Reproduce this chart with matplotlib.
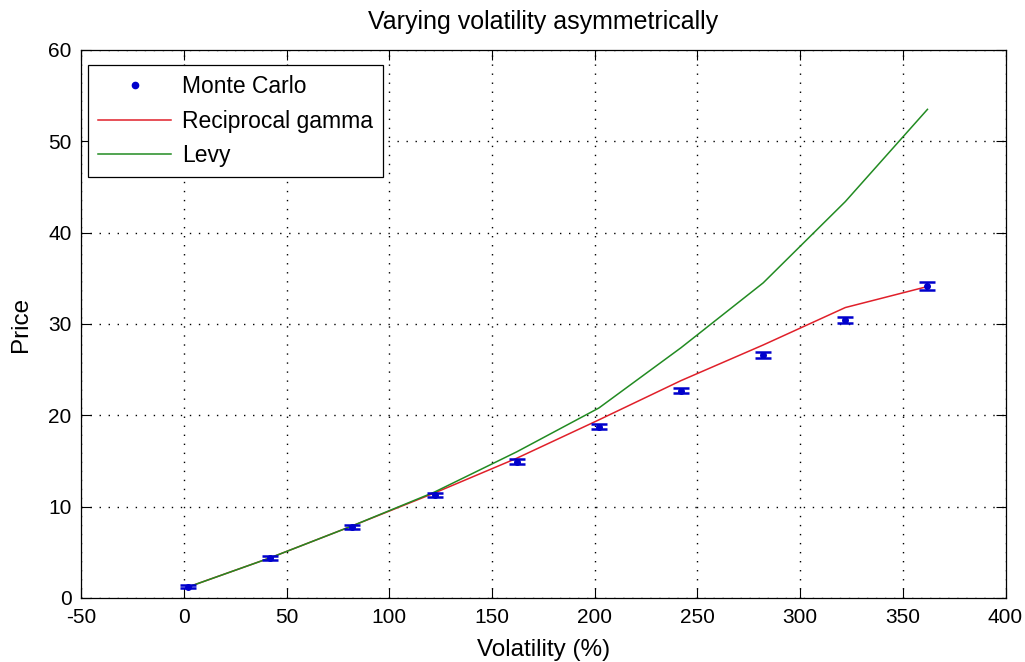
import matplotlib
matplotlib.use("Agg")
import matplotlib.pyplot as plt
from matplotlib.lines import Line2D

plt.rcParams['font.family'] = ['Liberation Sans', 'DejaVu Sans']
plt.rcParams['axes.unicode_minus'] = False

# Volatility levels (%) and prices
volatility = [2, 42, 82, 122, 162, 202, 242, 282, 322, 362]
mc_price = [1.24, 4.35, 7.74, 11.28, 14.93, 18.76, 22.71, 26.6, 30.45, 34.17]
mc_err = [0.15, 0.2, 0.2, 0.25, 0.25, 0.3, 0.3, 0.35, 0.35, 0.4]
recip_gamma = [1.2, 4.4, 7.9, 11.5, 15.3, 19.5, 23.8, 27.7, 31.8, 34.1]
levy = [1.2, 4.4, 7.9, 11.6, 16.0, 20.8, 27.4, 34.5, 43.4, 53.5]

xticks = [-50, 0, 50, 100, 150, 200, 250, 300, 350, 400]
yticks = [0, 10, 20, 30, 40, 50, 60]

fig = plt.figure(figsize=(10.25, 6.62), dpi=100)
ax = fig.add_axes([0.0793, 0.0967, 0.9017, 0.8278])

mc_color = '#0000cc'
ax.errorbar(volatility, mc_price, yerr=mc_err, fmt='.', color=mc_color,
            ecolor=mc_color, markersize=8, capsize=6, elinewidth=1.5,
            capthick=1.8, zorder=4)
red_line, = ax.plot(volatility, recip_gamma, color='#e0202a', lw=1.1, zorder=3)
green_line, = ax.plot(volatility, levy, color='#228b22', lw=1.1, zorder=3)

ax.set_xlim(-50, 400)
ax.set_ylim(0, 60)
ax.set_xticks(xticks)
ax.set_yticks(yticks)
ax.tick_params(direction='in', length=7, top=True, right=True, labelsize=15,
               width=0.8)
ax.tick_params(axis='x', pad=7.5)
ax.tick_params(axis='y', pad=7)
ax.grid(True, color='black', linestyle=(0, (1, 5.5)), linewidth=1.0)
for s in ax.spines.values():
    s.set_linewidth(0.9)

ax.set_title('Varying volatility asymmetrically', fontsize=18, pad=15)
ax.set_xlabel('Volatility (%)', fontsize=17.5, labelpad=8)
ax.set_ylabel('Price', fontsize=17.5, labelpad=12)

mc_proxy = Line2D([], [], linestyle='none', marker='.', markersize=9, color=mc_color)
leg = ax.legend([mc_proxy, red_line, green_line],
                ['Monte Carlo', 'Reciprocal gamma', 'Levy'],
                loc='upper left', bbox_to_anchor=(0.007, 0.973), fancybox=False,
                framealpha=1, edgecolor='black', fontsize=16.5, handlelength=3.2,
                borderpad=0.45, labelspacing=0.5, handletextpad=0.45,
                borderaxespad=0)
leg.get_frame().set_linewidth(0.9)

fig.savefig('out.png', dpi=100)
